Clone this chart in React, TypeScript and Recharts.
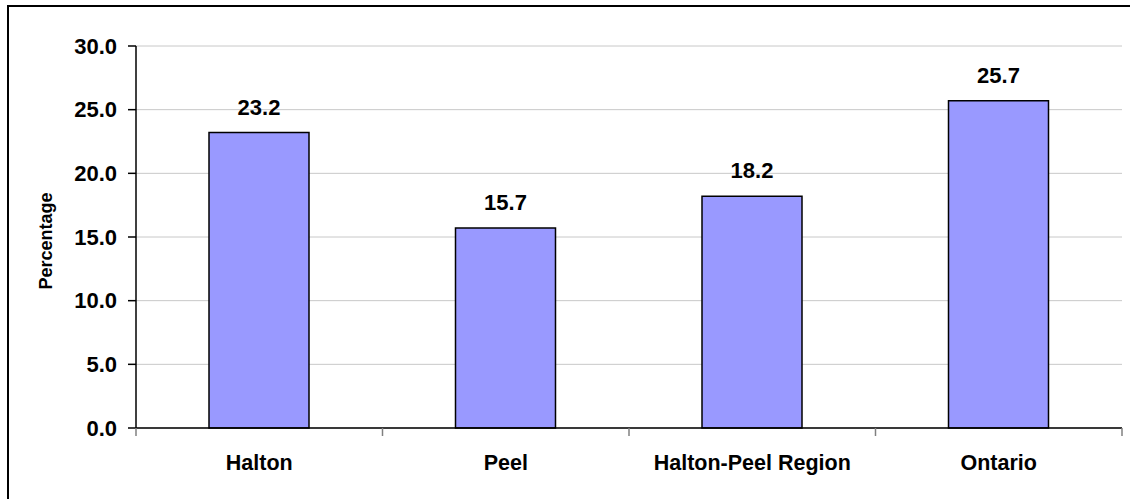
import { BarChart, Bar, XAxis, YAxis, CartesianGrid, LabelList } from "recharts"

const categories = ["Halton", "Peel", "Halton-Peel Region", "Ontario"]
const percentages = [23.2, 15.7, 18.2, 25.7]
const yTicks = [0, 5, 10, 15, 20, 25, 30]

const chartData = categories.map((name, i) => ({ name, value: percentages[i] }))

const FONT = "'Liberation Sans', Arial, sans-serif"
const WIDTH = 1130
const HEIGHT = 499
const X_AXIS_H = 30
const MARGIN = { top: 46, right: 8, bottom: 71 - X_AXIS_H, left: 36 }
const Y_AXIS_W = 100
const PLOT_W = WIDTH - MARGIN.left - Y_AXIS_W - MARGIN.right
const BAND = PLOT_W / categories.length

// category label plus Excel-style tick marks on the band boundaries
function CategoryTick(props: any) {
  const { x, y, payload, index } = props
  const axisY = y - 8
  return (
    <g>
      <line x1={x - BAND / 2} x2={x - BAND / 2} y1={axisY} y2={axisY + 8} stroke="#808080" strokeWidth={1.5} />
      {index === categories.length - 1 && (
        <line x1={x + BAND / 2} x2={x + BAND / 2} y1={axisY} y2={axisY + 8} stroke="#808080" strokeWidth={1.5} />
      )}
      <text x={x} y={y} dy={34} textAnchor="middle" fontFamily={FONT} fontWeight="bold" fontSize={21.5} fill="#000">
        {payload.value}
      </text>
    </g>
  )
}

function YTitle(props: any) {
  const { viewBox } = props
  const cx = viewBox.x + 10
  const cy = viewBox.y + viewBox.height / 2 + 4
  return (
    <text
      x={cx}
      y={cy}
      transform={`rotate(-90 ${cx} ${cy})`}
      textAnchor="middle"
      dominantBaseline="central"
      fontFamily={FONT}
      fontWeight="bold"
      fontSize={18}
      fill="#000"
    >
      Percentage
    </text>
  )
}

export default function App() {
  return (
    <div style={{ position: "absolute", left: 0, top: 0, width: WIDTH, height: HEIGHT, overflow: "hidden", background: "#fff" }}>
      <div
        style={{
          position: "absolute",
          left: 7,
          top: 5,
          width: WIDTH,
          height: HEIGHT,
          borderLeft: "2px solid #000",
          borderTop: "2px solid #000",
        }}
      />
      <div style={{ position: "absolute", left: 0, top: 0 }}>
        <BarChart width={WIDTH} height={HEIGHT} data={chartData} margin={MARGIN}>
          <CartesianGrid vertical={false} stroke="#C8C8C8" strokeWidth={1} />
          <XAxis
            dataKey="name"
            height={X_AXIS_H}
            tickLine={false}
            tickSize={8}
            tickMargin={0}
            axisLine={{ stroke: "#000", strokeWidth: 1.5 }}
            tick={<CategoryTick />}
            interval={0}
          />
          <YAxis
            width={Y_AXIS_W}
            domain={[0, 30]}
            ticks={yTicks}
            interval={0}
            tickFormatter={(v: number) => v.toFixed(1)}
            tickSize={8}
            tickMargin={11}
            axisLine={{ stroke: "#000", strokeWidth: 1.5 }}
            tickLine={{ stroke: "#000", strokeWidth: 1.5 }}
            tick={{ fontFamily: FONT, fontWeight: "bold", fontSize: 22, fill: "#000" }}
            label={<YTitle />}
          />
          <Bar dataKey="value" fill="#9999FF" stroke="#000" strokeWidth={1.5} barSize={100} isAnimationActive={false}>
            <LabelList
              dataKey="value"
              position="top"
              offset={18}
              formatter={(v: any) => Number(v).toFixed(1)}
              style={{ fontFamily: FONT, fontWeight: "bold", fontSize: 22, fill: "#000" }}
            />
          </Bar>
        </BarChart>
      </div>
    </div>
  )
}
